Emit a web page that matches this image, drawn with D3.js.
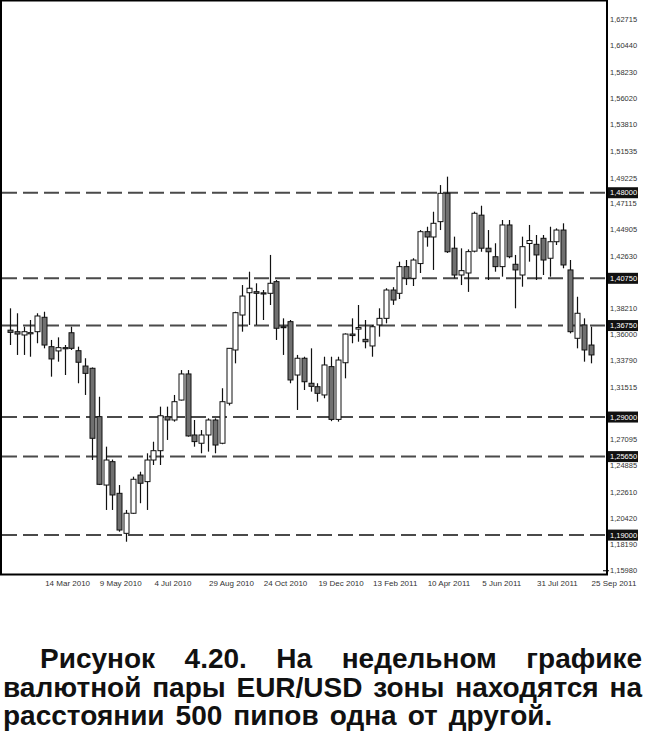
<!DOCTYPE html>
<html><head><meta charset="utf-8">
<script src="https://cdn.jsdelivr.net/npm/d3@7"></script>
<style>html,body{margin:0;padding:0;background:#fff;}svg{display:block;}</style>
</head><body>
<script>
// ---- data ----
const startWeek = "2010-02-07";
const openV  = [1.3636,1.3623,1.3595,1.3605,1.3623,1.3745,1.3496,1.3460,1.3488,1.3614,1.3462,1.3332,1.3313,1.2903,1.2324,1.2522,1.2254,1.1915,1.2085,1.2409,1.2353,1.2536,1.2615,1.2903,1.2875,1.3044,1.3265,1.2748,1.2678,1.2748,1.2875,1.2678,1.3017,1.3468,1.3764,1.3953,1.3962,1.3952,1.3948,1.4047,1.3665,1.3708,1.3256,1.3398,1.3186,1.3157,1.3087,1.3327,1.2880,1.3360,1.3603,1.3645,1.3558,1.3502,1.3680,1.3736,1.3976,1.3948,1.4174,1.4075,1.4200,1.4470,1.4425,1.4555,1.4795,1.4330,1.4103,1.4120,1.4305,1.4610,1.4330,1.4258,1.4174,1.4527,1.4194,1.4103,1.4370,1.4363,1.4414,1.4245,1.4385,1.4484,1.4146,1.3567,1.3680,1.3510];
const highV  = [1.3821,1.3779,1.3665,1.3722,1.3779,1.3792,1.3553,1.3575,1.3510,1.3665,1.3496,1.3398,1.3320,1.3072,1.2649,1.2540,1.2324,1.2113,1.2395,1.2437,1.2593,1.2691,1.2988,1.2988,1.3087,1.3298,1.3298,1.2875,1.2790,1.2889,1.2889,1.3144,1.3485,1.3792,1.4018,1.4131,1.4033,1.3976,1.4273,1.4061,1.3736,1.3722,1.3426,1.3411,1.3482,1.3186,1.3411,1.3411,1.3411,1.3609,1.3736,1.3849,1.3722,1.3680,1.3821,1.3991,1.4000,1.4216,1.4230,1.4245,1.4484,1.4512,1.4639,1.4865,1.4936,1.4428,1.4329,1.4320,1.4640,1.4690,1.4484,1.4372,1.4569,1.4569,1.4273,1.4428,1.4527,1.4442,1.4442,1.4512,1.4498,1.4541,1.4230,1.3919,1.3736,1.3665];
const lowV   = [1.3510,1.3426,1.3426,1.3411,1.3525,1.3482,1.3242,1.3369,1.3256,1.3468,1.3186,1.3087,1.2536,1.2324,1.2113,1.2113,1.1929,1.1844,1.2080,1.2170,1.2113,1.2494,1.2494,1.2706,1.2861,1.3040,1.2734,1.2649,1.2593,1.2607,1.2593,1.2670,1.2998,1.3355,1.3623,1.3680,1.3680,1.3722,1.3849,1.3553,1.3426,1.3186,1.2960,1.3129,1.3115,1.3030,1.3059,1.2865,1.2861,1.3228,1.3525,1.3538,1.3482,1.3411,1.3581,1.3694,1.3850,1.3900,1.4018,1.4010,1.4120,1.4343,1.4146,1.4484,1.4290,1.4075,1.4018,1.3960,1.4295,1.4300,1.4061,1.4131,1.4089,1.4245,1.3821,1.4004,1.4216,1.4061,1.4103,1.4089,1.4357,1.4160,1.3609,1.3482,1.3369,1.3355];
const closeV = [1.3617,1.3603,1.3623,1.3615,1.3756,1.3510,1.3392,1.3488,1.3478,1.3482,1.3364,1.3270,1.2720,1.2330,1.2536,1.2240,1.1943,1.2085,1.2373,1.2339,1.2536,1.2615,1.2911,1.2875,1.3030,1.3265,1.2740,1.2692,1.2748,1.2875,1.2663,1.3030,1.3482,1.3784,1.3925,1.3991,1.3948,1.3942,1.4033,1.3652,1.3660,1.3214,1.3398,1.3199,1.3160,1.3101,1.3341,1.2880,1.3383,1.3603,1.3590,1.3658,1.3538,1.3665,1.3736,1.3976,1.3891,1.4174,1.4075,1.4230,1.4470,1.4425,1.4541,1.4795,1.4300,1.4103,1.4140,1.4301,1.4626,1.4330,1.4300,1.4174,1.4527,1.4258,1.4146,1.4343,1.4395,1.4273,1.4230,1.4385,1.4484,1.4188,1.3623,1.3779,1.3468,1.3426];
const priceTicks = ["1.62715","1.60440","1.58230","1.56020","1.53810","1.51535","1.49225","1.47115","1.44905","1.42630","1.38210","1.36000","1.33790","1.31515","1.27095","1.24885","1.22610","1.20420","1.18190","1.15980"];
const levels = ["1.48000","1.40750","1.36750","1.29000","1.25650","1.19000"];
const dateTicks = ["2010-03-14","2010-05-09","2010-07-04","2010-08-29","2010-10-24","2010-12-19","2011-02-13","2011-04-10","2011-06-05","2011-07-31","2011-09-25"];
const captionLines = [
  "Рисунок 4.20. На недельном графике",
  "валютной пары EUR/USD зоны находятся на",
  "расстоянии 500 пипов одна от другой."
];

// ---- chart ----
const W = 650, H = 751;
const svg = d3.select("body").append("svg").attr("width", W).attr("height", H);
svg.append("rect").attr("width", W).attr("height", H).attr("fill", "#fff");

const plot = {left: 1, right: 607, top: 0, bottom: 575};
const parse = d3.utcParse("%Y-%m-%d");
const fmt = d3.utcFormat("%-d %b %Y");
const t0 = parse(startWeek);
const dates = d3.utcWeek.range(t0, d3.utcWeek.offset(t0, openV.length));
const candles = dates.map((d, i) => ({date: d, o: openV[i], h: highV[i], l: lowV[i], c: closeV[i]}));

const x = d3.scaleUtc().domain([dates[0], dates[dates.length - 1]]).range([10, 590.6]);
const y = d3.scaleLinear().domain([1.15621, 1.64324]).range([plot.bottom, plot.top]);

// level lines
svg.append("g").selectAll("line").data(levels).join("line")
  .attr("x1", plot.left + 1).attr("x2", plot.right)
  .attr("y1", d => y(+d)).attr("y2", d => y(+d))
  .attr("stroke", "#4a4a4a").attr("stroke-width", 2).attr("stroke-dasharray", "15,6");

// candles
const bw = 5;
const cg = svg.append("g");
cg.selectAll("line.wick").data(candles).join("line").attr("class", "wick")
  .attr("x1", d => Math.round(x(d.date)) + 0.5).attr("x2", d => Math.round(x(d.date)) + 0.5)
  .attr("y1", d => y(d.h)).attr("y2", d => y(d.l))
  .attr("stroke", "#111").attr("stroke-width", 1.2);
cg.selectAll("rect.body").data(candles).join("rect").attr("class", "body")
  .attr("x", d => Math.round(x(d.date)) + 0.5 - bw / 2)
  .attr("width", bw)
  .attr("y", d => y(Math.max(d.o, d.c)))
  .attr("height", d => Math.max(1, Math.abs(y(d.o) - y(d.c))))
  .attr("fill", d => d.c >= d.o ? "#fff" : "#707070")
  .attr("stroke", "#111").attr("stroke-width", 1);

// frame
svg.append("rect").attr("x", plot.left).attr("y", plot.top + 0.5)
  .attr("width", plot.right - plot.left).attr("height", plot.bottom - plot.top - 1)
  .attr("fill", "none").attr("stroke", "#000").attr("stroke-width", 2);

// right price axis
const fontAxis = "'Liberation Sans', Arial, sans-serif";
svg.append("g").selectAll("text").data(priceTicks).join("text")
  .attr("x", 610).attr("y", d => y(+d)).attr("dy", "0.35em")
  .attr("font-family", fontAxis).attr("font-size", 7.5).attr("fill", "#333")
  .text(d => d.replace(".", ","));
const lg = svg.append("g").selectAll("g").data(levels).join("g")
  .attr("transform", d => `translate(608,${y(+d)})`);
lg.append("rect").attr("x", 0).attr("y", -5.5).attr("width", 30).attr("height", 11).attr("fill", "#111");
lg.append("text").attr("x", 2).attr("dy", "0.35em")
  .attr("font-family", fontAxis).attr("font-size", 7.5).attr("fill", "#fff")
  .text(d => d.replace(".", ","));
svg.append("line").attr("x1", 603).attr("x2", 609).attr("y1", y(1.1598)).attr("y2", y(1.1598)).attr("stroke", "#000");

// time axis
svg.append("g").selectAll("text").data(dateTicks).join("text")
  .attr("x", d => x(parse(d)) + 1).attr("y", 586)
  .attr("font-family", fontAxis).attr("font-size", 8).attr("fill", "#333")
  .text(d => fmt(parse(d)));

// caption
const cap = svg.append("g").attr("font-family", "'Liberation Sans', Arial, sans-serif")
  .attr("font-weight", "bold").attr("font-size", 28).attr("fill", "#111");
const lineSpecs = [
  {x0: 40, x1: 642, base: 668, justify: true},
  {x0: 3, x1: 642, base: 697, justify: true},
  {x0: 3, x1: null, base: 725, justify: false}
];
captionLines.forEach((line, li) => {
  const spec = lineSpecs[li];
  const words = line.split(" ");
  const nodes = words.map(w => cap.append("text").attr("y", spec.base).text(w));
  const widths = nodes.map(n => n.node().getComputedTextLength());
  const total = d3.sum(widths);
  const gap = spec.justify ? (spec.x1 - spec.x0 - total) / (words.length - 1) : 11;
  let cx = spec.x0;
  nodes.forEach((n, i) => { n.attr("x", cx); cx += widths[i] + gap; });
});
</script>
</body></html>
